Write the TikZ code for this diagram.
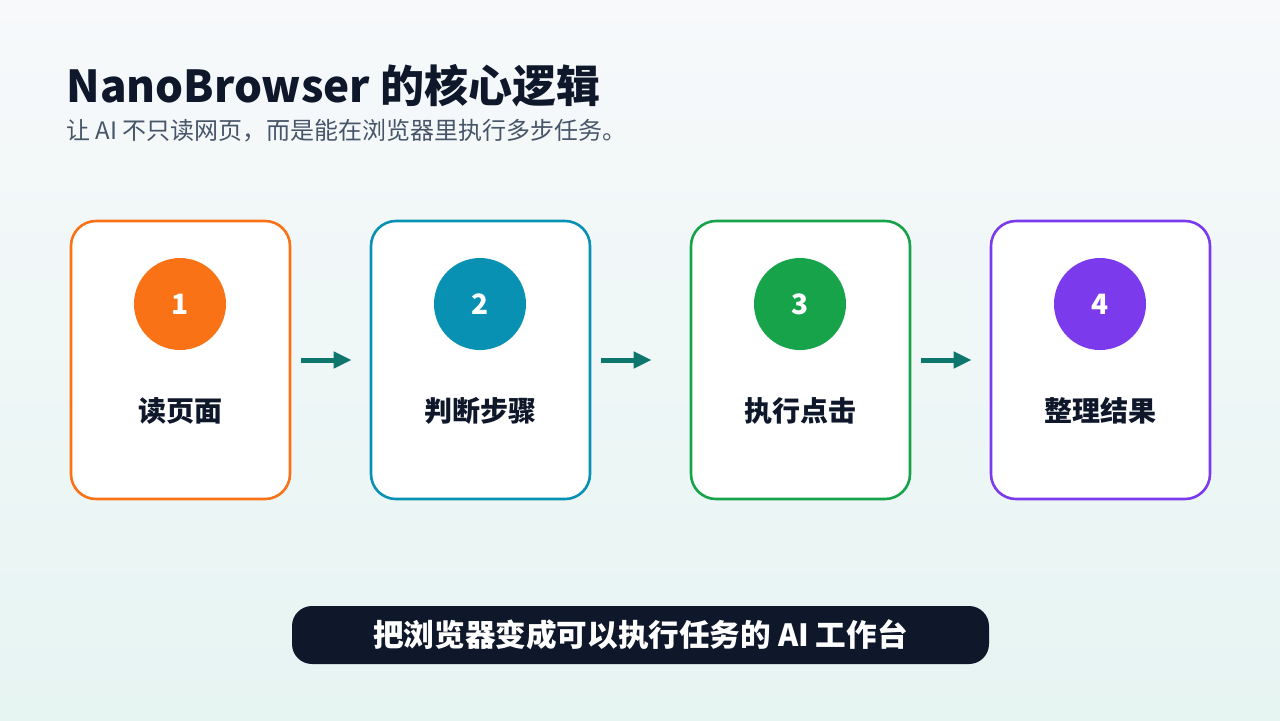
\documentclass[tikz,border=0pt]{standalone}
\usepackage{fontspec}
\setmainfont{Noto Sans CJK SC}
\usetikzlibrary{positioning, arrows.meta}

\definecolor{inkdark}{HTML}{0F172A}
\definecolor{inkgray}{HTML}{475569}
\definecolor{steporange}{HTML}{F97316}
\definecolor{stepcyan}{HTML}{0891B2}
\definecolor{stepgreen}{HTML}{16A34A}
\definecolor{steppurple}{HTML}{7C3AED}
\definecolor{flowteal}{HTML}{0F766E}
\definecolor{bgtop}{HTML}{F7F9FB}
\definecolor{bgbottom}{HTML}{E6F4F2}

\tikzset{
  card/.style={draw=#1, line width=1.3pt, fill=white, rounded corners=12.5pt,
    minimum width=109.5pt, minimum height=139pt, inner sep=0pt},
  badge/.style={circle, fill=#1, minimum size=46pt, inner sep=0pt,
    text=white, font=\fontsize{14pt}{16pt}\selectfont\bfseries},
  steplabel/.style={font=\fontsize{14pt}{16pt}\selectfont\bfseries, text=inkdark},
  flow/.style={draw=flowteal, line width=2.5pt, -{Triangle[length=9pt, width=8pt]}}
}

\begin{document}
\begin{tikzpicture}[x=0.5pt, y=-0.5pt]
    \useasboundingbox (0,0) rectangle (1280,720);
    \shade[top color=bgtop, bottom color=bgbottom] (0,0) rectangle (1280,720);

    % heading
    \node[anchor=base west, inner sep=0pt, text=inkdark,
      font=\fontsize{22pt}{24pt}\selectfont\bfseries] (title) at (66,102) {NanoBrowser 的核心逻辑};
    \node[anchor=base west, inner sep=0pt, text=inkgray,
      font=\fontsize{12pt}{14pt}\selectfont] (subtitle) at (66,139) {让 AI 不只读网页，而是能在浏览器里执行多步任务。};

    % four steps
    \node[card=steporange] (card1) at (180.5,360) {};
    \node[card=stepcyan] (card2) at (480.5,360) {};
    \node[card=stepgreen] (card3) at (800.5,360) {};
    \node[card=steppurple] (card4) at (1100.5,360) {};

    \node[badge=steporange] (num1) at (180,304) {1};
    \node[badge=stepcyan] (num2) at (480,304) {2};
    \node[badge=stepgreen] (num3) at (800,304) {3};
    \node[badge=steppurple] (num4) at (1100,304) {4};

    \node[steplabel] (lab1) at (180,411) {读页面};
    \node[steplabel] (lab2) at (480,411) {判断步骤};
    \node[steplabel] (lab3) at (800,411) {执行点击};
    \node[steplabel] (lab4) at (1100,411) {整理结果};

    \draw[flow] ([xshift=5pt]card1.east) -- ([xshift=-9pt]card2.west);
    \draw[flow] ([xshift=5pt]card2.east) -- ([xshift=-19pt]card3.west);
    \draw[flow] ([xshift=5pt]card3.east) -- ([xshift=-9pt]card4.west);

    % bottom banner
    \node[fill=inkdark, rounded corners=10pt, minimum width=348.5pt, minimum height=29pt,
      text=white, font=\fontsize{15.3pt}{18pt}\selectfont\bfseries] (banner) at (640.5,635) {把浏览器变成可以执行任务的 AI 工作台};
  \end{tikzpicture}
\end{document}
